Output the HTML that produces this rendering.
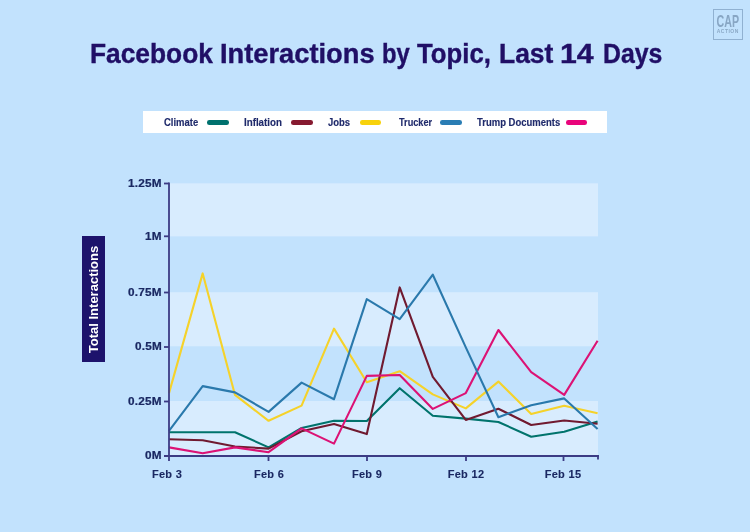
<!DOCTYPE html>
<html><head><meta charset="utf-8">
<style>
html,body{margin:0;padding:0;}
body{width:750px;height:532px;background:#c2e2fd;position:relative;overflow:hidden;font-family:"Liberation Sans",Arial,sans-serif;}
.title{position:absolute;left:0;top:40.3px;width:750px;height:30px;}
.tw{position:absolute;top:0;white-space:nowrap;font-weight:bold;color:#200f66;font-size:28px;line-height:1;-webkit-text-stroke:0.4px #200f66;transform-origin:0 0;}
.logo{position:absolute;left:713px;top:9px;width:27.5px;height:28.5px;border:1.5px solid #90b1d1;}
.logo .cap{position:absolute;left:-10px;width:47.5px;top:3.5px;text-align:center;font-weight:bold;color:#88a6c4;font-size:15.7px;line-height:1;transform:scaleX(0.68);}
.logo .act{position:absolute;left:-5px;width:37.5px;top:19px;text-align:center;font-weight:bold;color:#8ba9c6;font-size:5px;line-height:1;letter-spacing:0.5px;}
.legend{position:absolute;left:143px;top:111.3px;width:463.7px;height:22px;background:#fff;}
.lt{position:absolute;top:6.3px;font-weight:bold;color:#1f2a6b;font-size:10.3px;line-height:1;white-space:nowrap;-webkit-text-stroke:0.15px #1f2a6b;transform:scaleX(0.92);transform-origin:0 0;}
.sw{position:absolute;top:8.9px;height:4.6px;border-radius:2.3px;width:21.6px;}
.ytitle{position:absolute;left:82.2px;top:236.2px;width:23.1px;height:125.6px;background:#1d136c;}
.ytitle span{position:absolute;left:50%;top:50%;transform:translate(calc(-50% - 0.6px),calc(-50% + 0.5px)) rotate(-90deg);color:#fff;font-weight:bold;font-size:13px;white-space:nowrap;line-height:1;}
.yl{position:absolute;right:587.9px;font-weight:bold;color:#1a2862;font-size:10.4px;line-height:1;white-space:nowrap;letter-spacing:0.2px;-webkit-text-stroke:0.2px #1a2862;transform:scaleX(1.13);transform-origin:100% 0;}
.xl{position:absolute;font-weight:bold;color:#1a2862;font-size:11px;line-height:1;white-space:nowrap;transform:translateX(-50%);letter-spacing:0.3px;-webkit-text-stroke:0.1px #1a2862;}
svg{position:absolute;left:0;top:0;}
</style></head>
<body>
<div class="title" id="title"><div class="tw" style="left:89.51px;transform:scaleX(0.940);">Facebook</div><div class="tw" style="left:220.05px;transform:scaleX(0.974);">Interactions</div><div class="tw" style="left:381.59px;transform:scaleX(0.850);">by</div><div class="tw" style="left:416.75px;transform:scaleX(0.919);">Topic,</div><div class="tw" style="left:498.61px;transform:scaleX(0.944);">Last</div><div class="tw" style="left:559.93px;transform:scaleX(1.079);">14</div><div class="tw" style="left:603.30px;transform:scaleX(0.887);">Days</div></div>
<div class="logo"><div class="cap">CAP</div><div class="act">ACTION</div></div>

<div class="legend">
  <div class="lt" style="left:20.7px;">Climate</div>
  <div class="sw" style="left:64px;background:#00716e;"></div>
  <div class="lt" style="left:100.6px;transform:scaleX(0.945);">Inflation</div>
  <div class="sw" style="left:148.3px;background:#861a30;"></div>
  <div class="lt" style="left:185.4px;">Jobs</div>
  <div class="sw" style="left:216.9px;background:#f8d20c;"></div>
  <div class="lt" style="left:255.6px;transform:scaleX(0.89);">Trucker</div>
  <div class="sw" style="left:297px;background:#2a7db4;"></div>
  <div class="lt" style="left:334px;">Trump Documents</div>
  <div class="sw" style="left:422.8px;background:#e9047b;"></div>
</div>

<div class="ytitle"><span>Total Interactions</span></div>

<svg width="750" height="532" viewBox="0 0 750 532">
  <rect x="170" y="183.3" width="428" height="53.1" fill="#d8ecfe"/>
  <rect x="170" y="292.2" width="428" height="54.1" fill="#d8ecfe"/>
  <rect x="170" y="401" width="428" height="55" fill="#d8ecfe"/>
  <g fill="none" stroke-width="2.1" stroke-linejoin="round" stroke-linecap="butt">
    <polyline stroke="#00736c" points="169,432.2 202.7,432.2 235,432.2 268.6,447.4 301.6,427.9 334,420.7 366.8,421.0 399.7,388.2 432.8,415.7 465.8,418.6 498.4,422.0 531.2,436.7 564.2,431.7 597.6,421.4"/>
    <polyline stroke="#f5d22a" points="169,393.1 202.7,273.4 235,394.9 268.6,420.8 301.6,405.6 334,328.6 366.8,382.2 399.7,371.2 432.8,394.4 465.8,408.4 498.4,381.6 531.2,413.9 564.2,405.7 597.6,413.2"/>
    <polyline stroke="#701a30" points="169,439.3 202.7,440.3 235,446.5 268.6,448.6 301.6,431.3 334,423.9 366.8,434.1 399.7,287.4 432.8,376.8 465.8,419.9 498.4,408.7 531.2,425.0 564.2,420.5 597.6,423.7"/>
    <polyline stroke="#dc1275" points="169,447.4 202.7,453.3 235,447.4 268.6,452.2 301.6,428.4 334,443.6 366.8,375.9 399.7,375.0 432.8,408.9 465.8,393.1 498.4,330.0 531.2,372.2 564.2,394.9 597.6,340.8"/>
    <polyline stroke="#2a79ac" points="169,430.8 202.7,386.1 235,392.4 268.6,411.9 301.6,382.6 334,399.2 366.8,299.2 399.7,319.1 432.8,274.7 465.8,347.4 498.4,417.2 531.2,405.2 564.2,398.4 597.6,429.1"/>
  </g>
  <g stroke="#3c3b84" stroke-width="1.8" fill="none">
    <line x1="169" y1="182.5" x2="169" y2="461"/>
    <line x1="164" y1="456" x2="598.9" y2="456"/>
    <line x1="164" y1="183.5" x2="169" y2="183.5"/>
    <line x1="164" y1="236.3" x2="169" y2="236.3"/>
    <line x1="164" y1="292.5" x2="169" y2="292.5"/>
    <line x1="164" y1="347" x2="169" y2="347"/>
    <line x1="164" y1="401.5" x2="169" y2="401.5"/>
    <line x1="164" y1="456" x2="169" y2="456"/>
    <line x1="268.5" y1="456" x2="268.5" y2="461"/>
    <line x1="367" y1="456" x2="367" y2="461"/>
    <line x1="466" y1="456" x2="466" y2="461"/>
    <line x1="563.5" y1="456" x2="563.5" y2="461"/>
    <line x1="598" y1="455" x2="598" y2="459.5"/>
  </g>
</svg>

<div class="yl" style="top:179.3px;">1.25M</div>
<div class="yl" style="top:232.2px;">1M</div>
<div class="yl" style="top:288px;">0.75M</div>
<div class="yl" style="top:342px;">0.5M</div>
<div class="yl" style="top:397px;">0.25M</div>
<div class="yl" style="top:451.4px;">0M</div>

<div class="xl" style="left:167px;top:469px;">Feb 3</div>
<div class="xl" style="left:269px;top:469px;">Feb 6</div>
<div class="xl" style="left:367px;top:469px;">Feb 9</div>
<div class="xl" style="left:466px;top:469px;">Feb 12</div>
<div class="xl" style="left:563px;top:469px;">Feb 15</div>
</body></html>
